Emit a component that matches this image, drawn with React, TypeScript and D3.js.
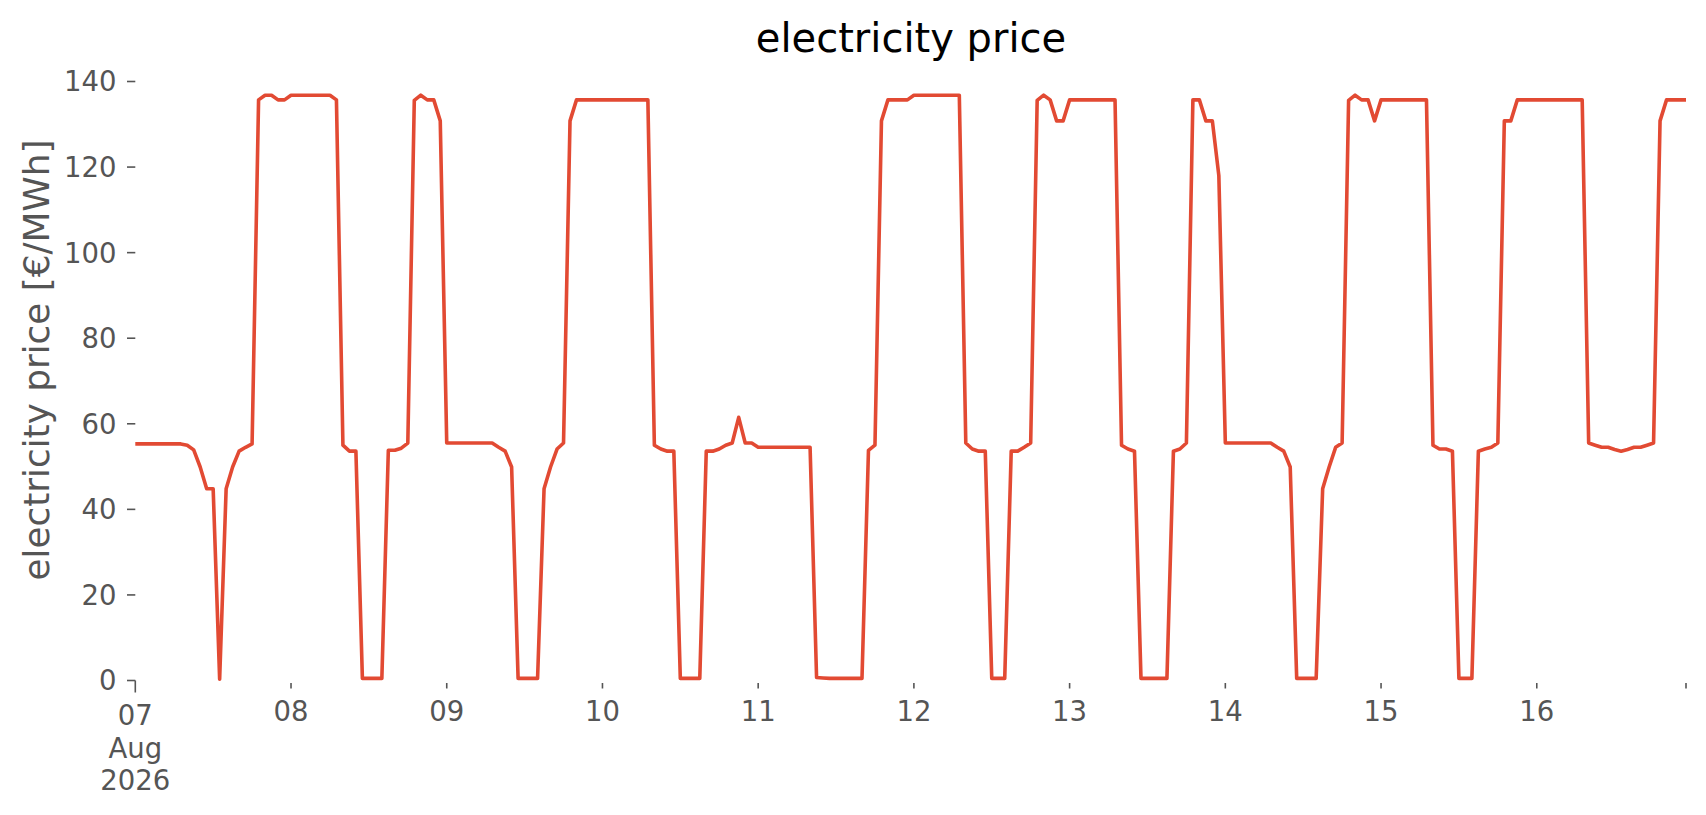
import * as d3 from "d3"

// hourly prices [€/MWh], one array per day
const aug07 = [55.3, 55.3, 55.3, 55.3, 55.3, 55.3, 55.3, 55.3, 55.0, 53.9, 49.9, 44.8, 44.8, 0.3, 44.8, 49.9, 53.6, 54.5, 55.3, 135.7, 136.8, 136.8, 135.7, 135.7]
const aug08 = [136.8, 136.8, 136.8, 136.8, 136.8, 136.8, 136.8, 135.7, 55.0, 53.6, 53.6, 0.5, 0.5, 0.5, 0.5, 53.8, 53.8, 54.3, 55.5, 135.6, 136.8, 135.7, 135.7, 130.8]
const aug09 = [55.5, 55.5, 55.5, 55.5, 55.5, 55.5, 55.5, 55.5, 54.5, 53.6, 49.9, 0.5, 0.5, 0.5, 0.5, 44.8, 49.9, 54.1, 55.5, 130.8, 135.7, 135.7, 135.7, 135.7]
const aug10 = [135.7, 135.7, 135.7, 135.7, 135.7, 135.7, 135.7, 135.7, 55.0, 54.1, 53.6, 53.6, 0.5, 0.5, 0.5, 0.5, 53.6, 53.6, 54.1, 55.0, 55.5, 61.5, 55.5, 55.5]
const aug11 = [54.5, 54.5, 54.5, 54.5, 54.5, 54.5, 54.5, 54.5, 54.5, 0.7, 0.6, 0.5, 0.5, 0.5, 0.5, 0.5, 0.5, 53.8, 55.0, 130.8, 135.7, 135.7, 135.7, 135.7]
const aug12 = [136.8, 136.8, 136.8, 136.8, 136.8, 136.8, 136.8, 136.8, 55.5, 54.1, 53.6, 53.6, 0.5, 0.5, 0.5, 53.6, 53.6, 54.5, 55.5, 135.6, 136.8, 135.7, 130.8, 130.8]
const aug13 = [135.7, 135.7, 135.7, 135.7, 135.7, 135.7, 135.7, 135.7, 55.0, 54.1, 53.6, 0.5, 0.5, 0.5, 0.5, 0.5, 53.6, 54.1, 55.5, 135.7, 135.7, 130.8, 130.8, 118.0]
const aug14 = [55.5, 55.5, 55.5, 55.5, 55.5, 55.5, 55.5, 55.5, 54.5, 53.6, 49.9, 0.5, 0.5, 0.5, 0.5, 44.8, 49.9, 54.5, 55.5, 135.6, 136.8, 135.7, 135.7, 130.8]
const aug15 = [135.7, 135.7, 135.7, 135.7, 135.7, 135.7, 135.7, 135.7, 55.0, 54.1, 54.1, 53.6, 0.5, 0.5, 0.5, 53.6, 54.1, 54.5, 55.5, 130.8, 130.8, 135.7, 135.7, 135.7]
const aug16 = [135.7, 135.7, 135.7, 135.7, 135.7, 135.7, 135.7, 135.7, 55.5, 55.0, 54.5, 54.5, 54.0, 53.6, 54.0, 54.5, 54.5, 55.0, 55.5, 130.8, 135.7, 135.7, 135.7, 135.7]

const days = [aug07, aug08, aug09, aug10, aug11, aug12, aug13, aug14, aug15, aug16]
const dayLabels = ["07", "08", "09", "10", "11", "12", "13", "14", "15", "16"]
const firstDayExtra = ["Aug", "2026"]
const yTicks = [0, 20, 40, 60, 80, 100, 120, 140]

const start = new Date(2026, 7, 7)
const prices = days.flat().map((v, i) => ({ t: d3.timeHour.offset(start, i), v }))

const W = 1706
const H = 815
const font = "DejaVu Sans"
const tickColor = "#555555"

export default function App() {
    const x = d3.scaleTime()
        .domain([prices[0].t, prices[prices.length - 1].t])
        .range([135.3, 1686])
    const y = d3.scaleLinear().domain([0, 140]).range([680.5, 81.5])

    const line = d3.line<{ t: Date; v: number }>()
        .x(d => x(d.t))
        .y(d => y(d.v))

    const dayTicks = d3.timeDay.range(start, d3.timeDay.offset(start, 10))
    const xEnd = prices[prices.length - 1].t

    return (
        <svg width={W} height={H} style={{ position: "absolute", left: 0, top: 0, background: "#fff" }}
            fontFamily={font}>
            <text x={911} y={51.5} textAnchor="middle" fontSize={40} fill="#000">electricity price</text>

            <text transform={`translate(49,360) rotate(-90)`} textAnchor="middle" fontSize={35.8}
                fill={tickColor}>electricity price [€/MWh]</text>

            {yTicks.map(t => (
                <g key={t}>
                    <line x1={127} x2={135.3} y1={y(t)} y2={y(t)} stroke={tickColor} strokeWidth={1.6} />
                    <text x={116.5} y={y(t)} dy="0.36em" textAnchor="end" fontSize={27.5}
                        fill={tickColor}>{t}</text>
                </g>
            ))}

            {dayTicks.map((d, i) => {
                const major = i === 0
                return (
                    <g key={i}>
                        <line x1={x(d)} x2={x(d)} y1={major ? 680.5 : 683} y2={major ? 692.5 : 688.5}
                            stroke={tickColor} strokeWidth={1.6} />
                        <text x={x(d)} y={major ? 725 : 721} textAnchor="middle" fontSize={27.5}
                            fill={tickColor}>{dayLabels[i]}</text>
                        {major && firstDayExtra.map((s, k) => (
                            <text key={s} x={x(d)} y={725 + 32.7 * (k + 1)} textAnchor="middle"
                                fontSize={27.5} fill={tickColor}>{s}</text>
                        ))}
                    </g>
                )
            })}
            <line x1={x(xEnd)} x2={x(xEnd)} y1={683} y2={688.5} stroke={tickColor} strokeWidth={1.6} />

            <path d={line(prices) ?? ""} fill="none" stroke="#E24A33" strokeWidth={3.6}
                strokeLinejoin="round" />
        </svg>
    )
}
